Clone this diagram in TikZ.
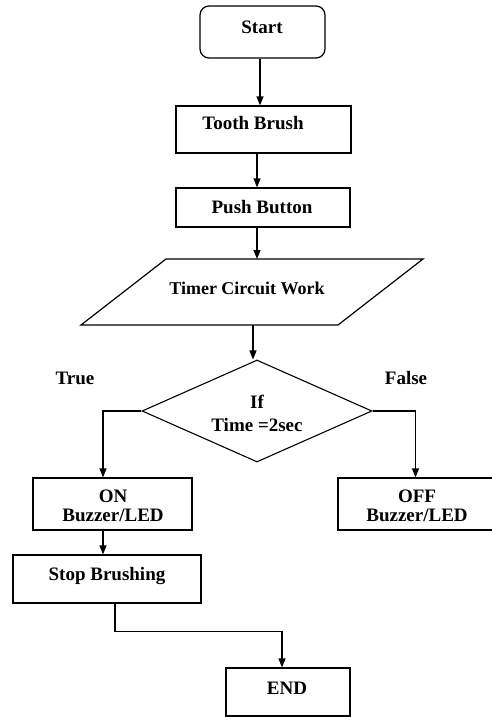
\documentclass[tikz,border=0pt]{standalone}
\usepackage{fontspec}
\setmainfont{Liberation Serif}
\usetikzlibrary{shapes.geometric,arrows.meta}
\begin{document}
\begin{tikzpicture}[x=1pt,y=-1pt,
  box/.style={draw,line width=1.2pt,rectangle,inner sep=0pt},
  txt/.style={font=\fontsize{19}{22}\selectfont\bfseries,inner sep=0pt,align=center},
  arr/.style={line width=1.2pt,-{Triangle[length=9pt,width=7pt]}},
  ln/.style={line width=1.2pt}]
\useasboundingbox (0,0) rectangle (491,717);
% Start
\node[box,rounded corners=9pt,minimum width=125pt,minimum height=52pt] (start) at (262.5,32) {};
\node[txt] (startt) at (262,27) {Start};
% Tooth Brush
\node[box,minimum width=175pt,minimum height=47pt] (tb) at (263.5,129.5) {};
\node[txt] (tbt) at (253,123) {Tooth Brush};
% Push Button
\node[box,minimum width=174pt,minimum height=39pt] (pb) at (263,207.5) {};
\node[txt] (pbt) at (262,207) {Push Button};
% Timer parallelogram
\coordinate (p1) at (166,259);
\coordinate (p2) at (423,259);
\coordinate (p3) at (338,325);
\coordinate (p4) at (81,325);
\draw[ln] (p1) -- (p2) -- (p3) -- (p4) -- cycle;
\node[txt,font=\fontsize{18}{22}\selectfont\bfseries] (tim) at (247,288) {Timer Circuit Work};
\coordinate (ptop) at (257,259);
\coordinate (pbot) at (253,325);
% Diamond
\node[draw,line width=1.1pt,diamond,inner sep=0pt,minimum width=230pt,minimum height=102pt] (dia) at (257,411) {};
\node[txt] (dift) at (257,402) {If};
\node[txt] (ditt) at (257,425) {Time =2sec};
% True / False
\node[txt] (truel) at (75,378) {True};
\node[txt] (falsel) at (406,378) {False};
% ON
\node[box,minimum width=159pt,minimum height=52pt] (on) at (112.5,504) {};
\node[txt] (ont) at (113,506) {ON\\[-3pt]Buzzer/LED};
% OFF
\node[box,minimum width=155pt,minimum height=52pt] (off) at (415.5,504) {};
\node[txt] (offt) at (417,506) {OFF\\[-3pt]Buzzer/LED};
% Stop Brushing
\node[box,minimum width=188pt,minimum height=48pt] (stop) at (107,579) {};
\node[txt] (stopt) at (107,576) {Stop Brushing};
% END
\node[box,minimum width=124pt,minimum height=48pt] (endn) at (288,692) {};
\node[txt] (endt) at (287,688) {END};
% connectors
\draw[arr] ([xshift=-2.5pt]start.south) -- ([xshift=-3.5pt]tb.north);
\draw[arr] ([xshift=-6.5pt]tb.south) -- ([xshift=-6pt]pb.north);
\draw[arr] ([xshift=-6pt]pb.south) -- (ptop);
\draw[arr] (pbot) -- (pbot |- dia.north);
\draw[arr] (dia.west) -| ([xshift=-9.5pt]on.north);
\draw[arr] (dia.east) -| (off.north);
\draw[arr] ([xshift=-9.5pt]on.south) -- ([xshift=-4pt]stop.north);
\draw[arr] ([xshift=8pt]stop.south) -- ++(0,28) -| ([xshift=-6pt]endn.north);
\end{tikzpicture}
\end{document}
